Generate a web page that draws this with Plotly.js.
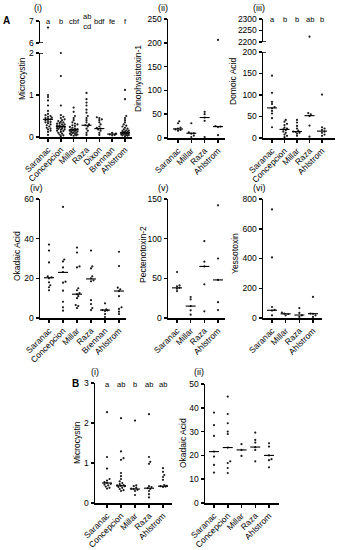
<!DOCTYPE html>
<html><head><meta charset="utf-8">
<script src="https://cdn.plot.ly/plotly-3.0.1.min.js"></script>
<style>html,body{margin:0;padding:0;background:#fff}#chart{width:341px;height:550px}</style>
</head><body><div id="chart"></div>
<script>
const W = 341, H = 550;

// ---------- DATA ----------
const catsAi = ['Saranac','Concepcion','Millar','Raza','Dixon','Brennan','Ahlstrom'];
const microcystinA = [
  [6.7, 1.0, 0.95, 0.87, 0.75, 0.62, 0.55, 0.52, 0.5, 0.48, 0.46, 0.45, 0.43, 0.42, 0.4, 0.38, 0.36, 0.35, 0.33, 0.3, 0.28, 0.25, 0.22, 0.2, 0.18, 0.15, 0.12, 0.05],
  [2.0, 1.45, 0.75, 0.52, 0.48, 0.45, 0.42, 0.4, 0.38, 0.36, 0.35, 0.33, 0.32, 0.3, 0.3, 0.28, 0.27, 0.26, 0.25, 0.25, 0.24, 0.23, 0.22, 0.21, 0.2, 0.19, 0.18, 0.17, 0.15, 0.14, 0.12, 0.1, 0.08, 0.06, 0.04, 0.02],
  [0.7, 0.6, 0.5, 0.45, 0.4, 0.35, 0.32, 0.3, 0.28, 0.26, 0.24, 0.22, 0.2, 0.19, 0.18, 0.17, 0.17, 0.16, 0.15, 0.14, 0.13, 0.12, 0.11, 0.1, 0.09, 0.08, 0.07, 0.06, 0.05, 0.04, 0.03],
  [1.05, 0.9, 0.82, 0.75, 0.65, 0.58, 0.5, 0.45, 0.4, 0.35, 0.3, 0.28, 0.25, 0.2, 0.15, 0.1, 0.05],
  [0.47, 0.45, 0.42, 0.4, 0.35, 0.3, 0.25, 0.22, 0.2, 0.18, 0.15, 0.1, 0.05],
  [0.1, 0.08, 0.06, 0.05, 0.04],
  [1.12, 0.9, 0.5, 0.45, 0.4, 0.35, 0.3, 0.27, 0.25, 0.22, 0.2, 0.18, 0.16, 0.15, 0.14, 0.13, 0.12, 0.11, 0.1, 0.1, 0.09, 0.09, 0.08, 0.08, 0.07, 0.06, 0.05, 0.05, 0.04, 0.03, 0.02]
];
const microcystinAMed = [0.42, 0.25, 0.17, 0.28, 0.2, 0.07, 0.1];
const microcystinALetters = ['a','b','cbf','ab<br>cd','bdf','fe','f'];

const catsAii = ['Saranac','Millar','Raza','Ahlstrom'];
const dtx1A = [
  [35, 31, 22, 20, 18, 17, 15],
  [31, 12, 10, 9, 5, 2],
  [55, 50, 43, 36, 2],
  [206, 25, 24, 23, 6]
];
const dtx1AMed = [19, 10, 43, 24];

const catsAiii = ['Saranac','Concepcion','Millar','Raza','Ahlstrom'];
const domoicA = [
  [145, 105, 84, 79, 72, 69, 63, 57, 46, 25],
  [42, 38, 33, 30, 24, 22, 20, 18, 15, 12, 8, 5, 2],
  [42, 36, 28, 22, 17, 15, 14, 12, 10, 5],
  [2223, 58, 55, 51, 29, 3],
  [101, 25, 22, 19, 15, 12, 8, 5]
];
const domoicAMed = [70, 20, 15, 52, 16];
const domoicALetters = ['a','b','b','ab','b'];

const catsAiv = ['Saranac','Concepcion','Millar','Raza','Brennan','Ahlstrom'];
const okadaicA = [
  [37, 34, 28, 21, 20.5, 20, 18, 16.5, 15.5, 14],
  [56, 29.5, 28.5, 25.5, 23.2, 18.3, 17.8, 13.8, 8.2, 5.4, 3.7],
  [35.5, 33, 26, 25.5, 15, 14, 12.5, 12, 11, 10, 6.5, 6, 5],
  [34, 26, 25, 21, 20, 19, 18.5, 9, 7, 5, 4],
  [7.4, 4.3, 4, 3.8, 3.5, 2, 0.5],
  [33.4, 26.2, 15.3, 14.5, 13.6, 11, 5.4, 4.6, 3.2, 2]
];
const okadaicAMed = [20.3, 23, 12, 19.7, 4, 13.6];

const catsAv = ['Saranac','Millar','Raza','Ahlstrom'];
const ptx2A = [
  [58, 41, 40, 38, 37, 34],
  [26.5, 23.6, 15, 9.7, 4.2],
  [97, 71, 65, 42.5, 8.4],
  [142, 75, 48, 20, 10]
];
const ptx2AMed = [38, 15, 65, 48];

const catsAvi = ['Saranac','Millar','Raza','Ahlstrom'];
const yessoA = [
  [730, 407, 74, 55, 50, 18],
  [36, 30, 27, 18],
  [67, 34, 18, 7],
  [142, 30, 28, 18, 7]
];
const yessoAMed = [52, 28, 20, 29];

const catsB = ['Saranac','Concepcion','Millar','Raza','Ahlstrom'];
const microcystinB = [
  [2.27, 1.15, 0.86, 0.6, 0.56, 0.52, 0.5, 0.48, 0.46, 0.44, 0.41, 0.38, 0.36],
  [2.12, 1.29, 1.12, 1.08, 0.75, 0.67, 0.6, 0.54, 0.5, 0.47, 0.45, 0.44, 0.43, 0.42, 0.4, 0.38, 0.35, 0.32, 0.3],
  [2.06, 0.44, 0.42, 0.38, 0.36, 0.35, 0.33, 0.3, 0.2],
  [2.22, 1.15, 1.03, 0.98, 0.42, 0.4, 0.37, 0.35, 0.3, 0.22, 0.14],
  [0.87, 0.78, 0.7, 0.65, 0.58, 0.45, 0.43, 0.42, 0.41, 0.4]
];
const microcystinBMed = [0.5, 0.43, 0.35, 0.37, 0.42];
const microcystinBLetters = ['a','ab','b','ab','ab'];

const okadaicB = [
  [38, 32.7, 28.2, 21.6, 19.5, 16, 12.8],
  [44.7, 37.4, 33.5, 30, 29, 23.3, 17.5, 16.8, 14.7, 12.6],
  [24.7, 22.3, 19.8],
  [29.6, 26.5, 25.4, 23.5, 22.3, 17.5],
  [25.1, 23.7, 20, 18.4, 18, 15]
];
const okadaicBMed = [21.6, 23.3, 22.3, 23.5, 20];

// ---------- PANEL LAYOUT (pixel geometry) ----------
const panels = [
  {cats: catsAi, vals: microcystinA, meds: microcystinAMed, title: 'Microcystin', label: '(i)',
   left: 40, first: 48, last: 125, right: 132,
   segs: [{top: 53, bottom: 137, range: [0, 2], ticks: [0, 1, 2]},
          {top: 21, bottom: 43, range: [6, 7], ticks: [6, 7]}],
   letters: microcystinALetters, letterY: 21.5,
   titleX: 22, titleY: 79, labelX: 38, labelY: 8},
  {cats: catsAii, vals: dtx1A, meds: dtx1AMed, title: 'Dinophysistoxin-1', label: '(ii)',
   left: 168, first: 178, last: 218, right: 225,
   segs: [{top: 19, bottom: 138, range: [0, 250], ticks: [0, 50, 100, 150, 200, 250]}],
   titleX: 138, titleY: 79, labelX: 163, labelY: 8},
  {cats: catsAiii, vals: domoicA, meds: domoicAMed, title: 'Domoic Acid', label: '(iii)',
   left: 263, first: 272, last: 322, right: 335,
   segs: [{top: 52, bottom: 138, range: [0, 200], ticks: [0, 50, 100, 150, 200]},
          {top: 19, bottom: 42, range: [2200, 2300], ticks: [2200, 2250, 2300]}],
   letters: domoicALetters, letterY: 19.5,
   titleX: 233, titleY: 81, labelX: 259, labelY: 8},
  {cats: catsAiv, vals: okadaicA, meds: okadaicAMed, title: 'Okadaic Acid', label: '(iv)',
   left: 40, first: 49, last: 119, right: 126,
   segs: [{top: 199, bottom: 318, range: [0, 60], ticks: [0, 20, 40, 60]}],
   titleX: 17, titleY: 256, labelX: 36, labelY: 188},
  {cats: catsAv, vals: ptx2A, meds: ptx2AMed, title: 'Pectenotoxin-2', label: '(v)',
   left: 168, first: 177, last: 218, right: 225,
   segs: [{top: 199, bottom: 318, range: [0, 150], ticks: [0, 50, 100, 150]}],
   titleX: 143, titleY: 255, labelX: 163, labelY: 188},
  {cats: catsAvi, vals: yessoA, meds: yessoAMed, title: 'Yessotoxin', label: '(vi)',
   left: 263, first: 272, last: 313, right: 322,
   segs: [{top: 199, bottom: 318, range: [0, 800], ticks: [0, 200, 400, 600, 800]}],
   titleX: 235, titleY: 254, labelX: 259, labelY: 188},
  {cats: catsB, vals: microcystinB, meds: microcystinBMed, title: 'Microcystin', label: '(i)',
   left: 95, first: 107, last: 163, right: 172,
   segs: [{top: 383, bottom: 503, range: [0, 3], ticks: [0, 1, 2, 3]}],
   letters: microcystinBLetters, letterY: 384,
   titleX: 77, titleY: 443, labelX: 95, labelY: 372},
  {cats: catsB, vals: okadaicB, meds: okadaicBMed, title: 'Okadaic Acid', label: '(ii)',
   left: 205, first: 214, last: 269, right: 279,
   segs: [{top: 384, bottom: 503, range: [0, 50], ticks: [0, 10, 20, 30, 40, 50]}],
   titleX: 183, titleY: 443, labelX: 199, labelY: 372}
];

const FONT = 'Liberation Sans, Arial, sans-serif';
const BLACK = '#000000';
const layout = {
  width: W, height: H, margin: {l: 0, r: 0, t: 0, b: 0}, showlegend: false,
  paper_bgcolor: '#fff', plot_bgcolor: 'rgba(0,0,0,0)',
  font: {family: FONT, size: 8.5, color: BLACK},
  annotations: [], shapes: []
};
const traces = [];
const DOT = 2.1;   // beeswarm spacing in px
const axisBase = {showline: true, linecolor: BLACK, linewidth: 1.5, ticks: 'outside',
  ticklen: 3, tickwidth: 1.5, tickcolor: BLACK, showgrid: false, zeroline: false,
  fixedrange: true, tickfont: {family: FONT, size: 8.5, color: BLACK}};

function txt(x, y, text, size, extra) {
  return Object.assign({xref: 'paper', yref: 'paper', x: x / W, y: 1 - y / H, text: text,
    showarrow: false, xanchor: 'center', yanchor: 'middle',
    font: {family: FONT, size: size, color: BLACK}}, extra || {});
}

let xi = 0, yi = 0;
panels.forEach(p => {
  xi++;
  const xid = xi === 1 ? 'x' : 'x' + xi;
  const xname = xi === 1 ? 'xaxis' : 'xaxis' + xi;
  const n = p.cats.length;
  const s = (p.last - p.first) / (n - 1);
  const r0 = -(p.first - p.left) / s, r1 = (n - 1) + (p.right - p.last) / s;
  const segIds = [];
  p.segs.forEach(sg => {
    yi++;
    const yid = yi === 1 ? 'y' : 'y' + yi;
    const yname = yi === 1 ? 'yaxis' : 'yaxis' + yi;
    segIds.push(yid);
    sg.id = yid;
    layout[yname] = Object.assign({}, axisBase, {
      domain: [1 - sg.bottom / H, 1 - sg.top / H], range: sg.range, anchor: xid,
      tickmode: 'array', tickvals: sg.ticks
    });
  });
  layout[xname] = Object.assign({}, axisBase, {
    domain: [p.left / W, p.right / W], range: [r0, r1], anchor: segIds[0],
    tickmode: 'array', tickvals: p.cats.map((c, i) => i), ticktext: p.cats, tickangle: -45
  });

  // break marks for broken axes
  if (p.segs.length > 1) {
    const half = 3 / (p.right - p.left);
    [[p.segs[0].id, p.segs[0].range[1]], [p.segs[1].id, p.segs[1].range[0]]].forEach(([yid, yv]) => {
      layout.shapes.push({type: 'line', xref: xid + ' domain', yref: yid,
        x0: -half, x1: half, y0: yv, y1: yv, line: {color: BLACK, width: 1.5}});
    });
  }

  // points with compact beeswarm spread
  const maxOff = Math.min(5, 0.4 * s);
  p.segs.forEach((sg, k) => {
    const lo = sg.range[0], hi = sg.range[1];
    const ppu = (sg.bottom - sg.top) / (hi - lo);
    const xs = [], ys = [];
    p.vals.forEach((arr, ci) => {
      const inSeg = arr.filter(v => k === 0 ? v <= hi * 1.02 : v > p.segs[0].range[1] * 1.02)
                       .slice().sort((a, b) => a - b);
      const placed = [];
      inSeg.forEach(v => {
        const py = (v - lo) * ppu;
        let best = 0, bestD = -1;
        for (let step = 0; step < 60; step++) {
          const m = Math.ceil(step / 2) * (step % 2 === 1 ? 1 : -1) * DOT * 0.6;
          if (Math.abs(m) > maxOff) break;
          let dmin = Infinity;
          placed.forEach(q => { dmin = Math.min(dmin, Math.hypot(q[0] - m, q[1] - py)); });
          if (dmin >= DOT) { best = m; bestD = dmin; break; }
          if (dmin > bestD) { bestD = dmin; best = m; }
        }
        placed.push([best, py]);
        xs.push(ci + best / s);
        ys.push(v);
      });
    });
    traces.push({type: 'scatter', mode: 'markers', x: xs, y: ys, xaxis: xid, yaxis: sg.id,
      cliponaxis: false, hoverinfo: 'skip',
      marker: {size: 2.2, color: '#1a1a1a', line: {width: 0}}});
  });

  // median lines
  const mx = [], my = [];
  const hw = 5 / s;
  p.meds.forEach((m, ci) => { mx.push(ci - hw, ci + hw, null); my.push(m, m, null); });
  traces.push({type: 'scatter', mode: 'lines', x: mx, y: my, xaxis: xid, yaxis: p.segs[0].id,
    cliponaxis: false, hoverinfo: 'skip', line: {color: BLACK, width: 1.1}});

  // significance letters (paper position from the category geometry)
  if (p.letters) {
    p.letters.forEach((t, ci) => {
      layout.annotations.push(txt(Math.round(p.first + ci * s), p.letterY, t, 7.5));
    });
  }
  layout.annotations.push(txt(p.titleX, p.titleY, p.title, 8.5, {textangle: -90}));
  layout.annotations.push(txt(p.labelX, p.labelY, p.label, 9));
});

layout.annotations.push(txt(6, 20, '<b>A</b>', 10));
layout.annotations.push(txt(75, 383, '<b>B</b>', 10));

Plotly.newPlot('chart', traces, layout, {staticPlot: true, displayModeBar: false});
</script>
</body></html>
